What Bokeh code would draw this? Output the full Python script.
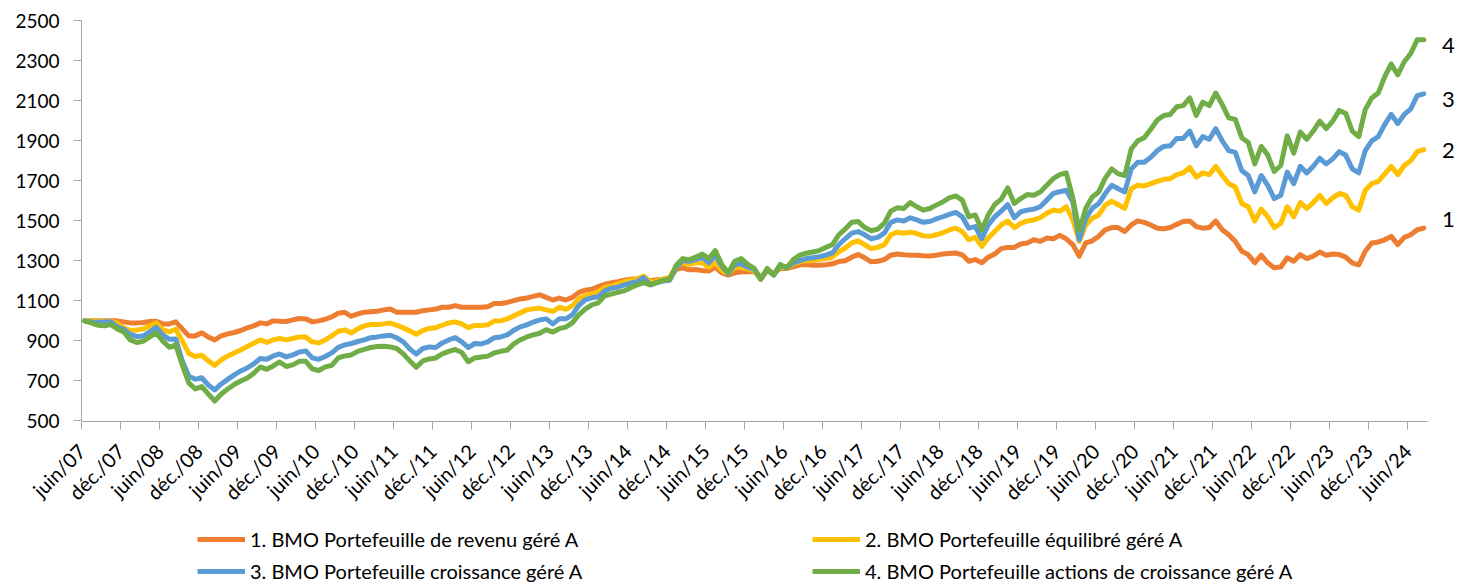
import math
from bokeh.plotting import figure
from bokeh.layouts import column
from bokeh.models import Range1d, FixedTicker, Legend, LegendItem, Label
from bokeh.embed import file_html
from bokeh.resources import INLINE

# ---------------- data ----------------
tick_labels = ["juin/07", "déc./07", "juin/08", "déc./08", "juin/09", "déc./09",
               "juin/10", "déc./10", "juin/11", "déc./11", "juin/12", "déc./12",
               "juin/13", "déc./13", "juin/14", "déc./14", "juin/15", "déc./15",
               "juin/16", "déc./16", "juin/17", "déc./17", "juin/18", "déc./18",
               "juin/19", "déc./19", "juin/20", "déc./20", "juin/21", "déc./21",
               "juin/22", "déc./22", "juin/23", "déc./23", "juin/24"]

series_names = ["1. BMO Portefeuille de revenu géré A",
                "2. BMO Portefeuille équilibré géré A",
                "3. BMO Portefeuille croissance géré A",
                "4. BMO Portefeuille actions de croissance géré A"]
series_tags = ["1", "2", "3", "4"]

# monthly values, June 2007 .. August 2024
revenu = [
    1000, 1001, 1001, 1000, 1000, 1000, 995, 990, 990, 992,
    997, 998, 985, 985, 995, 960, 925, 925, 940, 920,
    905, 925, 935, 942, 952, 965, 975, 990, 985, 1000,
    998, 997, 1005, 1012, 1010, 995, 1000, 1008, 1020,
    1038, 1043, 1023, 1035, 1043, 1046, 1048, 1055, 1059, 1043, 1043,
    1043, 1043, 1051, 1055, 1059, 1068, 1068, 1076, 1068, 1068,
    1068, 1068, 1071, 1087, 1087, 1092, 1101, 1109, 1114, 1122,
    1130, 1117, 1104, 1114, 1104, 1117, 1142, 1153, 1158, 1171,
    1183, 1190, 1196, 1203, 1208, 1211, 1219,
    1199, 1205, 1208, 1216, 1257, 1265, 1255, 1257, 1252, 1249,
    1268, 1240, 1229, 1240, 1245, 1245, 1245, 1219, 1249, 1236,
    1262, 1262, 1270, 1280, 1282, 1278, 1278, 1280, 1285, 1296,
    1300, 1318, 1331, 1315, 1295, 1298, 1306, 1328, 1334, 1330,
    1328, 1328, 1325, 1324, 1328, 1334, 1336, 1339, 1330,
    1298, 1306, 1290, 1318, 1334, 1361, 1367, 1367, 1384, 1389,
    1405, 1397, 1414, 1410, 1427, 1410, 1381, 1323, 1389, 1400,
    1422, 1455, 1466, 1466, 1446, 1479, 1499, 1492, 1479, 1463,
    1460, 1466, 1482, 1496, 1499, 1471, 1463, 1466, 1499, 1455,
    1430, 1397, 1348, 1331, 1290, 1328, 1290, 1265, 1269, 1315,
    1298, 1331, 1311, 1323, 1344, 1328, 1334, 1331, 1318, 1290,
    1279, 1348, 1389, 1394, 1405, 1422, 1381, 1417, 1430, 1455, 1463]

equilibre = [
    1000, 1000, 998, 998, 997, 988, 965, 952, 955, 960,
    975, 990, 955, 945, 958, 900, 838, 822, 828, 800,
    778, 805, 825, 840, 855, 872, 888, 905, 892, 905,
    912, 905, 912, 920, 920, 895, 890, 905, 925,
    948, 955, 940, 960, 975, 982, 982, 985, 989, 978, 965,
    950, 933, 952, 962, 966, 978, 990, 995, 985, 966,
    977, 977, 980, 999, 1000, 1010, 1025, 1040, 1055, 1060,
    1064, 1055, 1048, 1068, 1058, 1075, 1109, 1125, 1135, 1145,
    1168, 1175, 1185, 1196, 1203, 1208, 1224,
    1191, 1200, 1208, 1216, 1273, 1288, 1282, 1290, 1290, 1268,
    1290, 1252, 1236, 1268, 1265, 1260, 1249, 1208, 1252, 1232,
    1273, 1265, 1285, 1295, 1300, 1301, 1308, 1311, 1318, 1345,
    1364, 1389, 1400, 1380, 1361, 1367, 1380, 1430, 1443, 1438,
    1443, 1436, 1425, 1422, 1430, 1440, 1454, 1463, 1446,
    1405, 1417, 1372, 1414, 1446, 1479, 1499, 1466, 1487, 1499,
    1504, 1515, 1537, 1553, 1548, 1570, 1505, 1397, 1479, 1512,
    1529, 1578, 1598, 1580, 1562, 1660, 1677, 1674, 1685, 1697,
    1707, 1710, 1730, 1739, 1767, 1718, 1739, 1730, 1772, 1726,
    1685, 1669, 1586, 1570, 1499, 1558, 1520, 1466, 1487, 1570,
    1520, 1591, 1562, 1591, 1627, 1586, 1614, 1636, 1627, 1570,
    1553, 1652, 1685, 1697, 1734, 1772, 1730, 1776, 1800, 1845, 1855]

croissance = [
    1000, 995, 993, 995, 996, 970, 958, 932, 922, 925,
    945, 968, 930, 908, 910, 800, 725, 708, 716, 680,
    655, 685, 708, 730, 750, 765, 785, 812, 808, 825,
    835, 820, 830, 845, 850, 815, 808, 822, 840,
    868, 880, 887, 897, 905, 916, 920, 925, 928, 915, 895,
    860, 834, 862, 870, 867, 890, 905, 916, 895, 867,
    887, 885, 895, 916, 920, 930, 953, 970, 980, 994,
    1005, 1010, 985, 1010, 1010, 1030, 1076, 1105, 1115, 1120,
    1150, 1163, 1168, 1180, 1188, 1196, 1216,
    1180, 1191, 1199, 1203, 1268, 1301, 1298, 1306, 1318, 1290,
    1328, 1273, 1236, 1282, 1285, 1268, 1257, 1208, 1257, 1229,
    1278, 1265, 1290, 1301, 1311, 1315, 1321, 1328, 1339, 1380,
    1410, 1438, 1446, 1430, 1410, 1417, 1438, 1492, 1504, 1499,
    1515, 1504, 1492, 1496, 1509, 1520, 1532, 1542, 1520,
    1463, 1471, 1410, 1479, 1520, 1548, 1581, 1515, 1545, 1553,
    1558, 1570, 1603, 1636, 1645, 1652, 1595, 1405, 1512, 1562,
    1586, 1636, 1677, 1660, 1644, 1759, 1792, 1792, 1817, 1850,
    1871, 1874, 1911, 1911, 1948, 1874, 1920, 1907, 1960, 1899,
    1850, 1841, 1751, 1726, 1644, 1726, 1677, 1611, 1627, 1743,
    1685, 1772, 1739, 1772, 1812, 1784, 1809, 1845, 1828, 1759,
    1739, 1850, 1899, 1920, 1981, 2031, 1986, 2031, 2059, 2125, 2134]

actions = [
    1000, 990, 978, 975, 982, 960, 945, 905, 892, 898,
    920, 940, 900, 868, 880, 780, 690, 660, 672, 635,
    600, 635, 660, 682, 700, 715, 738, 770, 758, 775,
    795, 772, 780, 798, 798, 760, 752, 770, 778,
    815, 825, 830, 848, 858, 867, 872, 873, 870, 862, 835,
    800, 768, 800, 810, 815, 835, 848, 857, 842, 796,
    815, 820, 824, 840, 848, 854, 885, 905, 920, 930,
    938, 956, 944, 961, 969, 990, 1030, 1059, 1080, 1090,
    1125, 1134, 1142, 1150, 1165, 1180, 1191,
    1180, 1191, 1203, 1208, 1278, 1311, 1306, 1318, 1334, 1311,
    1351, 1282, 1240, 1298, 1311, 1282, 1262, 1208, 1262, 1229,
    1282, 1265, 1306, 1328, 1338, 1344, 1351, 1367, 1380, 1430,
    1459, 1492, 1496, 1466, 1450, 1458, 1487, 1548, 1565, 1561,
    1591, 1570, 1553, 1561, 1578, 1594, 1614, 1624, 1603,
    1520, 1529, 1455, 1529, 1581, 1608, 1664, 1586, 1611, 1631,
    1627, 1644, 1677, 1710, 1730, 1739, 1615, 1450, 1562, 1619,
    1644, 1713, 1759, 1734, 1726, 1858, 1899, 1915, 1957, 2003,
    2026, 2031, 2069, 2075, 2113, 2026, 2092, 2075, 2138, 2080,
    2014, 2006, 1915, 1891, 1784, 1871, 1828, 1746, 1776, 1924,
    1838, 1943, 1907, 1948, 1998, 1960, 1998, 2051, 2036, 1948,
    1920, 2055, 2113, 2138, 2220, 2283, 2228, 2294, 2335, 2404, 2404]

all_series = [revenu, equilibre, croissance, actions]

# ---------------- style ----------------
colors = ["#ED7D31", "#FFC000", "#5B9BD5", "#70AD47"]
FONT = "Lato"
AXIS_GREY = "#A6A6A6"
n_months = 207            # axis covers June 2007 .. end of August 2024
px_per_month = 6.5
W = 1458
LEFT = 81
frame_w = W - LEFT
x_end = frame_w / px_per_month   # room on the right for the series tags
H_main = 515
H_leg = 583 - H_main

p = figure(width=W, height=H_main,
           x_range=Range1d(0, x_end), y_range=Range1d(497.5, 2500),
           output_backend="svg", toolbar_location=None,
           min_border_left=LEFT, min_border_right=0,
           min_border_top=20, min_border_bottom=H_main - 425)
p.xgrid.visible = False
p.ygrid.visible = False
p.outline_line_color = None
p.background_fill_color = "white"
p.border_fill_color = "white"

for vals, col in zip(all_series, colors):
    xs = [i + 0.5 for i in range(len(vals))]
    p.line(xs, vals, line_color=col, line_width=5,
           line_join="round", line_cap="round")

# y axis
p.yaxis.ticker = FixedTicker(ticks=list(range(500, 2501, 200)))
p.yaxis.bounds = (500, 2500)
p.yaxis.axis_line_color = AXIS_GREY
p.yaxis.major_tick_line_color = AXIS_GREY
p.yaxis.major_tick_out = 8
p.yaxis.major_tick_in = 0
p.yaxis.minor_tick_line_color = None
p.yaxis.major_label_text_font = FONT
p.yaxis.major_label_text_font_size = "19px"
p.yaxis.major_label_text_color = "#000000"
p.yaxis.major_label_standoff = 14

# x axis
xt = [6 * i for i in range(len(tick_labels))]
p.xaxis.ticker = FixedTicker(ticks=xt)
p.xaxis.bounds = (0, n_months)
p.xaxis.major_label_overrides = {t: lab for t, lab in zip(xt, tick_labels)}
p.xaxis.axis_line_color = AXIS_GREY
p.xaxis.major_tick_line_color = AXIS_GREY
p.xaxis.major_tick_out = 8
p.xaxis.major_tick_in = 0
p.xaxis.minor_tick_line_color = None
p.xaxis.major_label_orientation = math.pi / 4
p.xaxis.major_label_text_font = FONT
p.xaxis.major_label_text_font_size = "20px"
p.xaxis.major_label_text_color = "#000000"
p.xaxis.major_label_standoff = 18

# end-of-line tags
tag_y = [1504, 1850, 2105, 2376]
for tag, ty in zip(series_tags, tag_y):
    p.add_layout(Label(x=210.3, y=ty, text=tag, text_align="center",
                       text_baseline="middle", text_font=FONT,
                       text_font_size="22px", text_color="#000000"))

# legend strip below the chart (its frame is aligned with the chart's frame)
lg = figure(width=W, height=H_leg, x_range=Range1d(0, 1), y_range=Range1d(0, 1),
            x_axis_type=None, y_axis_type=None,
            output_backend="svg", toolbar_location=None, min_border=0)
lg.xgrid.visible = False
lg.ygrid.visible = False
lg.outline_line_color = None
lg.background_fill_color = "white"
lg.border_fill_color = "white"
lg_items = []
for name, col in zip(series_names, colors):
    r = lg.line([5, 6], [5, 6], line_color=col, line_width=5)   # outside view, key only
    lg_items.append(LegendItem(label=name, renderers=[r]))

legend = Legend(items=lg_items, orientation="horizontal", ncols=2,
                location=(116, 0),
                label_text_font=FONT, label_text_font_size="20px",
                label_text_color="#000000",
                glyph_width=48, glyph_height=22, label_height=22, label_width=554,
                label_standoff=5, spacing=8, padding=0, margin=0,
                border_line_alpha=0, background_fill_alpha=0)
lg.add_layout(legend)

layout = column(p, lg, spacing=0)
open("out.html", "w").write(file_html(layout, INLINE))
